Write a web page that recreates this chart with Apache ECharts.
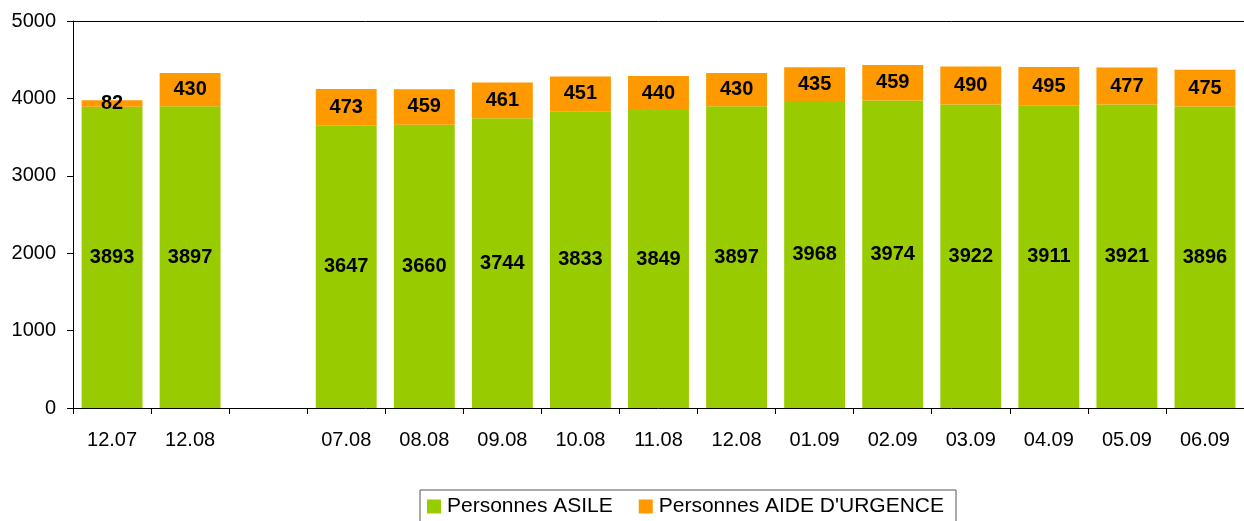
<!DOCTYPE html>
<html>
<head>
<meta charset="utf-8">
<script src="https://cdn.jsdelivr.net/npm/echarts@6/dist/echarts.min.js"></script>
<style>
  html, body { margin: 0; padding: 0; background: #fff; }
  #chart { width: 1244px; height: 521px; }
</style>
</head>
<body>
<div id="chart"></div>
<script>
// mois (la 3e colonne est vide dans l'original)
const categories = ['12.07', '12.08', '', '07.08', '08.08', '09.08', '10.08', '11.08', '12.08', '01.09', '02.09', '03.09', '04.09', '05.09', '06.09']
const asile = [3893, 3897, null, 3647, 3660, 3744, 3833, 3849, 3897, 3968, 3974, 3922, 3911, 3921, 3896]
const urgence = [82, 430, null, 473, 459, 461, 451, 440, 430, 435, 459, 490, 495, 477, 475]
const yTicks = { min: 0, max: 5000, interval: 1000 }

const font = 'Liberation Sans, Arial, sans-serif'
const labelStyle = {
  show: true,
  position: 'inside',
  color: '#000',
  fontFamily: font,
  fontWeight: 'bold',
  fontSize: 20
}

const myChart = echarts.init(document.getElementById('chart'))
myChart.setOption({
  animation: false,
  grid: {
    left: 73,
    top: 21,
    width: 1176,
    height: 387
  },
  legend: {
    top: 490,
    left: 420,
    itemWidth: 14,
    itemHeight: 14,
    itemGap: 26,
    padding: [6, 12, 12, 7],
    borderColor: '#555',
    borderWidth: 1,
    icon: 'rect',
    textStyle: { fontFamily: font, fontSize: 21, color: '#000', padding: [0, 0, 0, 1] },
    data: ['Personnes ASILE', "Personnes AIDE D'URGENCE"]
  },
  xAxis: [
    {
      type: 'category',
      data: categories,
      axisLine: { lineStyle: { color: '#000' } },
      axisTick: { show: true, length: 6, lineStyle: { color: '#000' } },
      axisLabel: { color: '#000', fontFamily: font, fontSize: 20, margin: 22, interval: 0 }
    },
    {
      // ligne du haut de la zone de tracé
      type: 'category',
      position: 'top',
      data: categories,
      axisLine: { show: true, lineStyle: { color: '#000' } },
      axisTick: { show: false },
      axisLabel: { show: false }
    }
  ],
  yAxis: {
    type: 'value',
    min: yTicks.min,
    max: yTicks.max,
    interval: yTicks.interval,
    axisLine: { show: true, lineStyle: { color: '#000' } },
    axisTick: { show: true, length: 6, lineStyle: { color: '#000' } },
    axisLabel: {
      color: '#000', fontFamily: font, fontSize: 20, margin: 17,
      formatter: function (value) { return String(value) }
    },
    splitLine: { show: false }
  },
  series: [
    {
      name: 'Personnes ASILE',
      type: 'bar',
      stack: 'total',
      barCategoryGap: '22%',
      itemStyle: { color: '#99CC00' },
      label: labelStyle,
      data: asile
    },
    {
      name: "Personnes AIDE D'URGENCE",
      type: 'bar',
      stack: 'total',
      barCategoryGap: '22%',
      itemStyle: { color: '#FF9900' },
      label: labelStyle,
      data: urgence
    }
  ]
})
</script>
</body>
</html>
